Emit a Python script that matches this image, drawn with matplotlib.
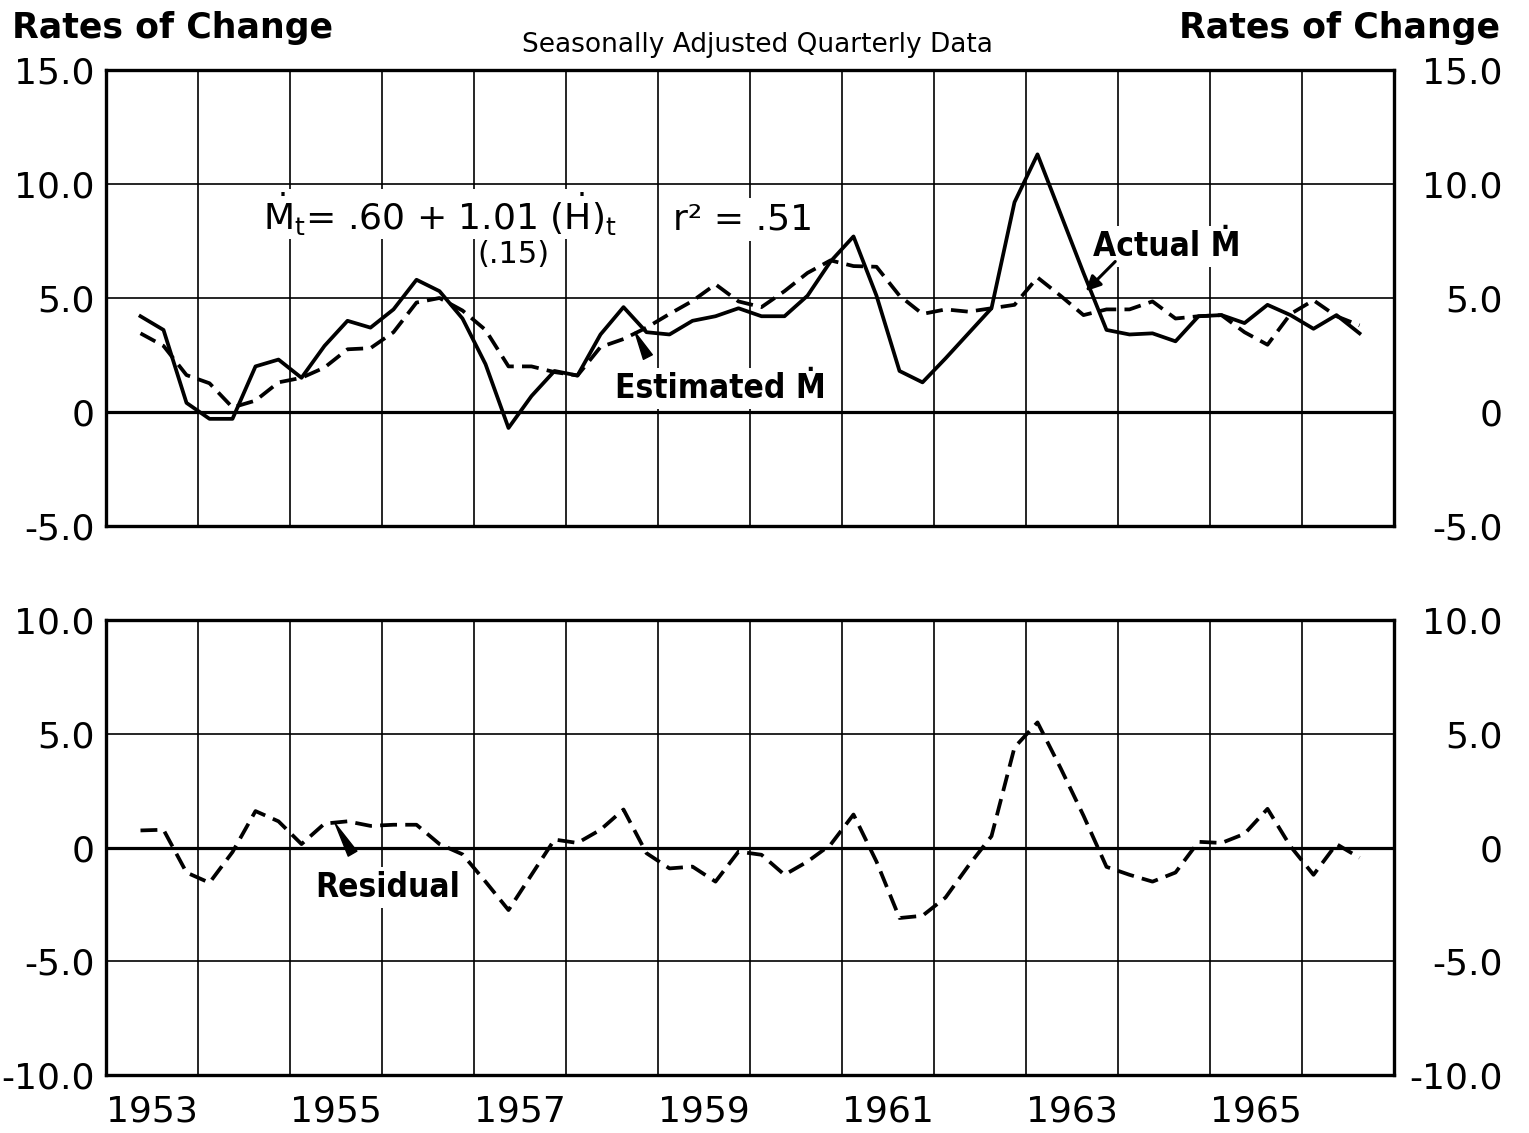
import matplotlib
matplotlib.use("Agg")
import matplotlib.pyplot as plt

plt.rcParams['font.family'] = ['DejaVu Sans']
plt.rcParams['mathtext.fontset'] = 'dejavusans'
plt.rcParams['mathtext.default'] = 'regular'

# ---- data -------------------------------------------------------------
# quarterly observations 1953 Q2 .. 1966 Q3
periods = [(y, q) for y in range(1953, 1967) for q in range(1, 5)][1:-1]
x = [y + (q - 0.5) / 4 for y, q in periods]

actual = [4.2, 3.6, 0.4, -0.3, -0.3, 2.0, 2.3, 1.5, 2.9, 4.0,
          3.7, 4.5, 5.8, 5.3, 4.1, 2.1, -0.7, 0.7, 1.8, 1.6,
          3.4, 4.6, 3.5, 3.4, 4.0, 4.2, 4.55, 4.2, 4.2, 5.1,
          6.6, 7.7, 5.1, 1.8, 1.3, 2.35, 3.45, 4.55, 9.2, 11.3,
          8.7, 6.1, 3.6, 3.4, 3.45, 3.1, 4.2, 4.25, 3.9, 4.7,
          4.25, 3.65, 4.25, 3.45]

estimated = [3.45, 2.9, 1.62, 1.26, 0.2, 0.5, 1.3, 1.5, 1.95, 2.75,
             2.8, 3.5, 4.8, 5.0, 4.45, 3.6, 2.0, 2.0, 1.75, 1.6,
             2.85, 3.2, 3.7, 4.3, 4.87, 5.6, 4.85, 4.6, 5.3, 6.1,
             6.65, 6.4, 6.37, 5.1, 4.3, 4.5, 4.4, 4.55, 4.7, 5.9,
             5.1, 4.25, 4.5, 4.5, 4.85, 4.1, 4.2, 4.25, 3.5, 2.95,
             4.3, 4.9, 4.2, 3.8]

residual = [0.75, 0.78, -1.1, -1.55, -0.2, 1.6, 1.15, 0.15, 1.05, 1.15,
            0.95, 1.0, 1.0, 0.15, -0.3, -1.5, -2.75, -1.2, 0.35, 0.2,
            0.78, 1.67, -0.25, -0.92, -0.84, -1.5, -0.18, -0.32, -1.2, -0.62,
            0.12, 1.45, -0.62, -3.1, -3.0, -2.2, -0.8, 0.5, 4.4, 5.5,
            3.5, 1.4, -0.85, -1.2, -1.5, -1.1, 0.25, 0.2, 0.6, 1.7,
            0.05, -1.2, 0.15, -0.45]

top_ticks = [-5, 0, 5, 10, 15]
top_labels = ['-5.0', '0', '5.0', '10.0', '15.0']
bot_ticks = [-10, -5, 0, 5, 10]
bot_labels = ['-10.0', '-5.0', '0', '5.0', '10.0']
grid_years = list(range(1953, 1968))
label_years = [1953, 1955, 1957, 1959, 1961, 1963, 1965]

# ---- layout -----------------------------------------------------------
W, H = 1529, 1133
fig = plt.figure(figsize=(W / 100, H / 100), dpi=100)
fig.patch.set_facecolor('white')


def rect(l, r, t, b):
    return [l / W, 1 - b / H, (r - l) / W, (b - t) / H]


ax1 = fig.add_axes(rect(106, 1394, 70, 526))
ax2 = fig.add_axes(rect(106, 1394, 620, 1075))

TICK_FS = 26
LINE_W = 2.7
DASH = (0, (4.5, 2.2))


def setup(ax, yticks, ylabels):
    ax.set_xlim(grid_years[0], grid_years[-1])
    ax.set_ylim(yticks[0], yticks[-1])
    ax.set_xticks(grid_years)
    ax.set_xticklabels([])
    ax.set_yticks(yticks)
    ax.set_yticklabels(ylabels, fontsize=TICK_FS)
    ax.tick_params(axis='both', which='both', length=0)
    ax.tick_params(axis='y', pad=8)
    ax.grid(True, which='major', color='black', lw=1.2)
    for s in ax.spines.values():
        s.set_linewidth(2.4)
    ax.axhline(0, color='black', lw=2.3, zorder=1)
    tw = ax.twinx()
    tw.set_ylim(yticks[0], yticks[-1])
    tw.set_yticks(yticks)
    tw.set_yticklabels(ylabels, fontsize=TICK_FS)
    tw.tick_params(axis='y', length=0, pad=78)
    for lab in tw.get_yticklabels():
        lab.set_horizontalalignment('right')
    for s in tw.spines.values():
        s.set_visible(False)
    return tw


setup(ax1, top_ticks, top_labels)
setup(ax2, bot_ticks, bot_labels)

ax2.set_xticks([y + 0.5 for y in label_years], minor=True)
ax2.set_xticklabels([str(y) for y in label_years], minor=True, fontsize=TICK_FS)
ax2.tick_params(axis='x', which='minor', pad=14, length=0)

# ---- series -----------------------------------------------------------
ax1.plot(x, actual, color='black', lw=LINE_W, zorder=4)
ax1.plot(x, estimated, color='black', lw=LINE_W, ls=DASH, zorder=4)
ax2.plot(x, residual, color='black', lw=LINE_W, ls=DASH, zorder=4)

# ---- annotations ------------------------------------------------------
box = dict(facecolor='white', edgecolor='none', pad=3)
ax1.text(1954.71, 8.0, r'$\dot{M}_{t}$= .60 + 1.01 $(\dot{H})_{t}$', fontsize=26,
         va='baseline', ha='left', bbox=dict(facecolor='white', edgecolor='none', pad=1),
         zorder=6)
ax1.text(1959.16, 8.0, 'r² = .51', fontsize=26, va='baseline', ha='left',
         bbox=box, zorder=6)
ax1.text(1957.04, 6.55, '(.15)', fontsize=22, va='baseline', ha='left',
         bbox=dict(facecolor='white', edgecolor='none', pad=0), zorder=5)

cond = dict(fontsize=24, weight='bold', family=['Liberation Sans Narrow', 'DejaVu Sans'],
            fontstretch='condensed', va='baseline', ha='left', bbox=box, zorder=5)
ax1.text(1963.73, 6.84, 'Actual Ṁ', **cond)
ax1.text(1958.53, 0.6, 'Estimated Ṁ', **cond)
ax2.text(1955.27, -2.17, 'Residual', **cond)

ax1.annotate('', xy=(1963.65, 5.3), xytext=(1963.97, 6.6),
             arrowprops=dict(arrowstyle='-|>', lw=2.2, color='black',
                             mutation_scale=22, shrinkA=0, shrinkB=0), zorder=6)
ax1.annotate('', xy=(1958.75, 3.5), xytext=(1958.89, 2.41),
             arrowprops=dict(arrowstyle='wedge,tail_width=0.45', color='black',
                             mutation_scale=16, shrinkA=0, shrinkB=0), zorder=6)
ax2.annotate('', xy=(1955.49, 1.06), xytext=(1955.68, -0.27),
             arrowprops=dict(arrowstyle='wedge,tail_width=0.45', color='black',
                             mutation_scale=16, shrinkA=0, shrinkB=0), zorder=6)

# ---- headings ---------------------------------------------------------
fig.text(12 / W, 1 - 38 / H, 'Rates of Change', fontsize=25, weight='bold',
         ha='left', va='baseline')
fig.text(1500 / W, 1 - 38 / H, 'Rates of Change', fontsize=25, weight='bold',
         ha='right', va='baseline')
fig.text(757 / W, 1 - 52 / H, 'Seasonally Adjusted Quarterly Data', fontsize=19,
         ha='center', va='baseline')

fig.savefig('out.png', dpi=100, facecolor='white')
